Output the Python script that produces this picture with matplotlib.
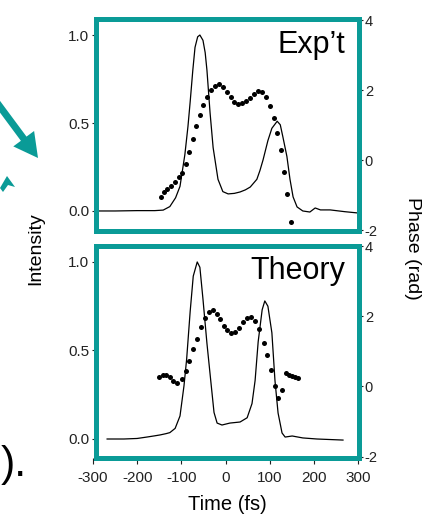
import matplotlib
matplotlib.use('Agg')
import matplotlib.pyplot as plt
from matplotlib.patches import Polygon
from matplotlib.transforms import IdentityTransform

plt.rcParams['font.family'] = ['Liberation Sans', 'DejaVu Sans']
plt.rcParams['axes.unicode_minus'] = False

# ---------------- data ----------------
# Experiment: intensity
exp_t = [-290, -250, -200, -160, -141, -126, -113, -103, -92, -85, -80, -74, -69, -63, -58,
         -51, -46, -42, -35, -28, -17, -6, 6, 20, 33, 45, 56, 71, 78, 85, 96, 105, 117,
         124, 130, 139, 146, 153, 162, 175, 191, 203, 215, 237, 270, 298]
exp_int = [0.0, 0.0, 0.002, 0.002, 0.005, 0.025, 0.075, 0.14, 0.32, 0.48, 0.62, 0.80, 0.93, 0.99, 1.0,
           0.97, 0.90, 0.80, 0.56, 0.36, 0.18, 0.11, 0.097, 0.10, 0.108, 0.12, 0.136, 0.18, 0.23, 0.29, 0.40, 0.47, 0.51,
           0.49, 0.42, 0.31, 0.18, 0.08, 0.023, 0.0, -0.006, 0.017, 0.006, 0.006, -0.004, -0.011]
# Experiment: phase
exp_ph_t = [-146, -139, -132, -123, -114, -105, -98, -89, -83, -74, -67, -58, -51, -42, -33, -24,
            -15, -6, 3, 12, 19, 28, 37, 46, 55, 64, 74, 83, 92, 101, 110, 117, 126, 132, 139, 148]
exp_phase = [-1.06, -0.91, -0.83, -0.74, -0.63, -0.49, -0.37, -0.11, 0.23, 0.60, 0.97, 1.29, 1.57, 1.80, 2.00, 2.11,
             2.17, 2.09, 1.94, 1.80, 1.66, 1.60, 1.63, 1.69, 1.77, 1.89, 1.97, 1.94, 1.80, 1.54, 1.20, 0.77, 0.29, -0.34, -0.97, -1.77]

# Theory: intensity
th_t = [-268, -230, -200, -178, -160, -148, -135, -126, -114, -103, -94, -88, -80, -73, -64, -58, -51, -42,
        -33, -26, -19, -8, 10, 33, 49, 60, 67, 74, 83, 89, 96, 105, 112, 119, 128, 135, 151, 175, 207, 266]
th_int = [0.0, 0.0, 0.003, 0.011, 0.018, 0.023, 0.03, 0.036, 0.06, 0.13, 0.30, 0.45, 0.72, 0.92, 1.0, 0.97, 0.79, 0.54,
          0.32, 0.15, 0.09, 0.079, 0.09, 0.096, 0.12, 0.20, 0.33, 0.55, 0.73, 0.78, 0.75, 0.60, 0.33, 0.147, 0.034, 0.011, 0.017, 0.006, 0.0, -0.006]
# Theory: phase
th_ph_t = [-151, -142, -135, -126, -119, -110, -99, -89, -83, -74, -65, -56, -46, -37, -28, -19, -13, -3, 3,
           13, 22, 31, 40, 49, 58, 67, 76, 87, 94, 103, 112, 119, 128, 137, 144, 151, 157, 164]
th_phase = [0.28, 0.33, 0.33, 0.28, 0.17, 0.11, 0.22, 0.44, 0.72, 1.06, 1.36, 1.69, 1.94, 2.11, 2.17, 2.06, 1.92, 1.72, 1.61,
            1.53, 1.56, 1.67, 1.83, 1.94, 1.97, 1.86, 1.64, 1.25, 0.89, 0.47, 0.0, -0.33, -0.11, 0.39, 0.33, 0.31, 0.28, 0.25]

panel_titles = ["Exp\u2019t", "Theory"]
int_ticks = [0.0, 0.5, 1.0]
int_ticklabels = ["0.0", "0.5", "1.0"]
phase_ticks = [-2, 0, 2, 4]
phase_ticklabels = ["-2", "0", "2", "4"]
time_ticks = [-300, -200, -100, 0, 100, 200, 300]
time_ticklabels = ["-300", "-200", "-100", "0", "100", "200", "300"]

# ---------------- layout ----------------
W, H = 424, 524
fig = plt.figure(figsize=(W / 100, H / 100), dpi=100)
TEAL = '#0a9b97'


def rect(l, t, r, b):
    return [l / W, 1 - b / H, (r - l) / W, (b - t) / H]


# helper axis for the time ticks below the lower panel
hx = fig.add_axes(rect(93, 245.5, 358, 457.5))
hx.set_xlim(-300, 300)
hx.patch.set_visible(False)
for s in hx.spines.values():
    s.set_visible(False)
hx.set_yticks([])
hx.set_xticks(time_ticks)
hx.set_xticklabels(time_ticklabels)
hx.tick_params(axis='x', direction='out', length=4, width=0.8, pad=6, labelsize=11, colors='#222222')

panels = [
    dict(box=(95.5, 18.5, 358.5, 230.5), ilim=(-0.111, 1.094), plim=(-2.014, 4.043),
         t=exp_t, i=exp_int, pt=exp_ph_t, p=exp_phase, title=panel_titles[0], ty=0.837),
    dict(box=(95.5, 245.5, 358.5, 457.5), ilim=(-0.1045, 1.093), plim=(-2.025, 4.02),
         t=th_t, i=th_int, pt=th_ph_t, p=th_phase, title=panel_titles[1], ty=0.842),
]

for pn in panels:
    ax = fig.add_axes(rect(*pn['box']))
    ax.plot(pn['t'], pn['i'], color='black', lw=0.9)
    ax.set_xlim(-294.3, 301.1)
    ax.set_ylim(*pn['ilim'])
    ax.set_xticks([])
    ax.set_yticks(int_ticks)
    ax.set_yticklabels(int_ticklabels)
    ax.tick_params(axis='y', direction='out', length=3, width=0.8, pad=1.5, labelsize=11, colors='#222222')
    ax2 = ax.twinx()
    ax2.plot(pn['pt'], pn['p'], 'o', color='black', ms=3.6, mec='none')
    ax2.set_ylim(*pn['plim'])
    ax2.set_yticks(phase_ticks)
    ax2.set_yticklabels(phase_ticklabels)
    ax2.tick_params(axis='y', direction='out', length=3, width=0.8, pad=1.5, labelsize=10.5, colors='#222222')
    for s in ax.spines.values():
        s.set_visible(False)
    for s in ax2.spines.values():
        s.set_color(TEAL)
        s.set_linewidth(3.6)
    ax2.text(0.949, pn['ty'], pn['title'], transform=ax.transAxes, ha='right', va='baseline',
             fontsize=22, color='black')

fig.text(227 / W, 1 - 505 / H, "Time (fs)", ha='center', va='center', fontsize=14.5)
fig.text(36 / W, 1 - 249 / H, "Intensity", ha='center', va='center', rotation=90, fontsize=14)
fig.text(413 / W, 1 - 248 / H, "Phase (rad)", ha='center', va='center', rotation=-90, fontsize=14)


# decorative slide fragments on the left
def px(pts):
    return [(x, H - y) for x, y in pts]


arrow = px([(-7.8, 102.1), (-2.2, 97.9), (26.5, 136.6), (34.1, 131.0), (38, 158),
            (13.3, 146.4), (20.9, 140.8)])
fig.add_artist(Polygon(arrow, closed=True, transform=IdentityTransform(), color=TEAL, lw=0))
frag = px([(0, 188), (7, 176), (15, 187), (8, 185), (3, 192)])
fig.add_artist(Polygon(frag, closed=True, transform=IdentityTransform(), color=TEAL, lw=0))
fig.text(1 / W, 48 / H, ").", fontsize=31, ha='left', va='baseline')

fig.savefig('out.png', dpi=100)
